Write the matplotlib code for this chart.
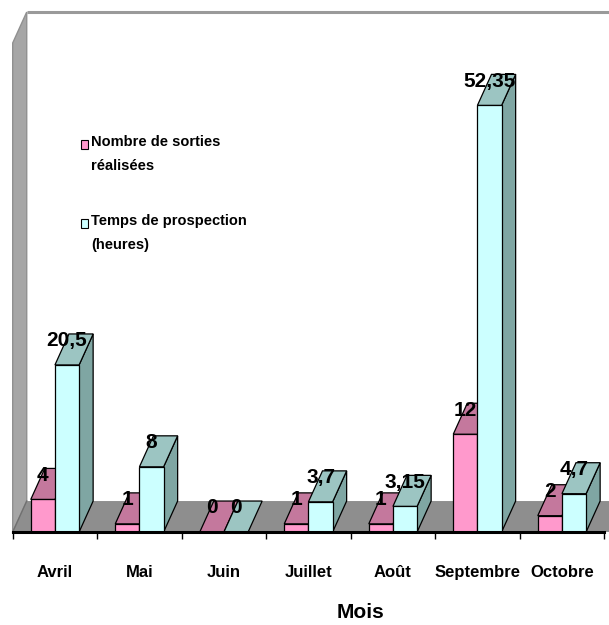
import matplotlib.pyplot as plt
import numpy as np
from matplotlib.patches import Polygon, Rectangle

plt.rcParams['font.family'] = ['Liberation Sans', 'DejaVu Sans']

# Sorties et temps de prospection par mois
mois = ['Avril', 'Mai', 'Juin', 'Juillet', 'Août', 'Septembre', 'Octobre']
sorties = [4, 1, 0, 1, 1, 12, 2]
temps = [20.5, 8, 0, 3.7, 3.15, 52.35, 4.7]
sorties_lbl = ['4', '1', '0', '1', '1', '12', '2']
temps_lbl = ['20,5', '8', '0', '3,7', '3,15', '52,35', '4,7']

W, H = 609, 625
fig = plt.figure(figsize=(W / 100, H / 100), dpi=100)
ax = fig.add_axes([12.7 / W, (H - 532) / H, 591.5 / W, 489 / H])
ax.set_xlim(-0.5, 6.5)
ax.set_ylim(0, 60)
ax.patch.set_visible(False)

dx, dy = 0.166, 3.8   # profondeur 3D
bw = 0.286

pink = dict(front='#ff99cc', top='#c4789d', side='#a8638a')
teal = dict(front='#ccffff', top='#9cc5c2', side='#7fa6a3')

# murs et sol
ax.add_patch(Polygon([(-0.5 + dx, dy), (7.5, dy), (7.5, 60 + dy), (-0.5 + dx, 60 + dy)],
                     fc='white', ec='none', clip_on=False, zorder=0))
ax.plot([-0.5 + dx, 7.5], [60 + dy, 60 + dy], color='#9a9a9a', lw=2.2,
        clip_on=False, zorder=1, solid_capstyle='butt')
ax.add_patch(Polygon([(-0.5, 0), (-0.5, 60), (-0.5 + dx, 60 + dy), (-0.5 + dx, dy)],
                     fc='#a6a6a6', ec='#909090', lw=1, clip_on=False, zorder=1))
ax.add_patch(Polygon([(-0.5, 0), (7.5, 0), (7.5 + dx, dy), (-0.5 + dx, dy)],
                     fc='#8e8e8e', ec='none', clip_on=False, zorder=1))
ax.plot([-0.5, -0.5 + dx], [0, dy], color='#707070', lw=1, clip_on=False, zorder=1)


def bar3d(x0, v, c, z):
    x1 = x0 + bw
    kw = dict(ec='black', lw=0.9, clip_on=False, zorder=z, joinstyle='miter')
    if v > 0:
        ax.add_patch(Polygon([(x1, 0), (x1 + dx, dy), (x1 + dx, v + dy), (x1, v)], fc=c['side'], **kw))
        ax.add_patch(Rectangle((x0, 0), bw, v, fc=c['front'], **kw))
    ax.add_patch(Polygon([(x0, v), (x1, v), (x1 + dx, v + dy), (x0 + dx, v + dy)], fc=c['top'], **kw))


for i in range(len(mois)):
    bar3d(i - bw, sorties[i], pink, 2 + 2 * i)
    bar3d(i, temps[i], teal, 3 + 2 * i)
    ax.text(i - bw / 2, sorties[i] + 2.95, sorties_lbl[i], ha='center', va='center',
            fontsize=15, fontweight='bold', zorder=30)
    ax.text(i + bw / 2, temps[i] + 2.95, temps_lbl[i], ha='center', va='center',
            fontsize=15, fontweight='bold', zorder=30)

# axe des mois
ax.set_xticks(np.arange(-0.5, 7, 1), labels=[''] * 8)
ax.set_xticks(range(7), labels=mois, minor=True)
ax.tick_params(axis='x', which='major', length=5, width=1, direction='out', color='black')
ax.tick_params(axis='x', which='minor', length=0, pad=24, labelsize=12)
for t in ax.get_xticklabels(minor=True):
    t.set_fontweight('bold')
ax.set_yticks([])
for s in ['top', 'left', 'right']:
    ax.spines[s].set_visible(False)
ax.spines['bottom'].set_linewidth(2.2)
ax.spines['bottom'].set_zorder(40)

ax.set_xlabel('Mois', fontsize=15, fontweight='bold')
ax.xaxis.set_label_coords((360 - 12.7) / 591.5, (532 - 613) / 489)
ax.xaxis.label.set_va('center')

# légende
leg = [('Nombre de sorties\nréalisées', '#ff99cc', 144),
       ('Temps de prospection\n(heures)', '#ccffff', 223)]
for txt, col, y in leg:
    fig.patches.append(Rectangle((81 / W, 1 - (y + 4.5) / H), 7 / W, 9 / H, fc=col, ec='black',
                                 lw=0.8, transform=fig.transFigure))
    fig.text(91 / W, 1 - (y - 9) / H, txt, ha='left', va='top', fontsize=10.5,
             fontweight='bold', linespacing=1.95)

fig.savefig('out.png', dpi=100)
